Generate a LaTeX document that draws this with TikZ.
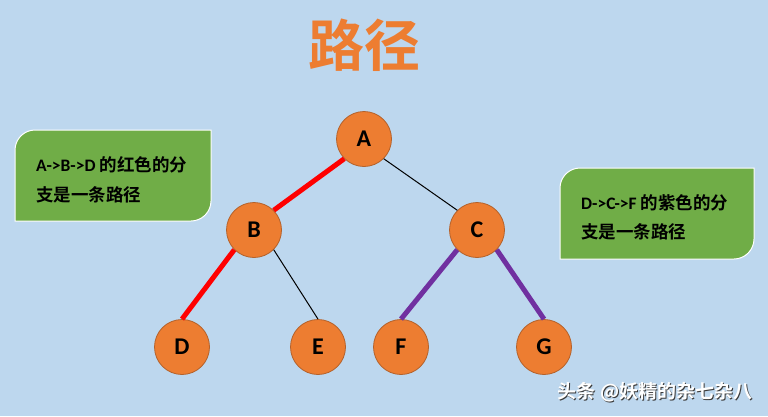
\documentclass[tikz,border=0pt]{standalone}
\usepackage{fontspec}
\setmainfont{Carlito}
\newfontfamily\cjkb[BoldFont=Noto Sans CJK SC Bold]{Noto Sans CJK SC}
\newfontfamily\cjkbold{Noto Sans CJK SC Bold}
\newfontfamily\latb{Carlito Bold}
\definecolor{bg}{HTML}{BDD7EE}
\definecolor{nodeor}{HTML}{ED7D31}
\definecolor{nodeedge}{HTML}{B4612A}
\definecolor{boxgreen}{HTML}{70AD47}
\definecolor{pathred}{HTML}{FF0000}
\definecolor{pathpurple}{HTML}{7030A0}
\definecolor{shadowgray}{HTML}{3A3A3A}
\tikzset{
  treenode/.style={circle, minimum size=55pt, inner sep=0pt, fill=nodeor, draw=nodeedge, line width=0.8pt, font=\latb\fontsize{24}{24}\selectfont},
  plainedge/.style={draw=black, line width=1pt},
  rededge/.style={draw=pathred, line width=5pt},
  purpleedge/.style={draw=pathpurple, line width=5pt},
  greenbox/.style={fill=boxgreen, draw=white, line width=1pt},
  boxtext/.style={anchor=west, inner sep=0pt, font=\fontsize{17.5}{17.5}\selectfont},
}
\begin{document}
\begin{tikzpicture}[x=1pt,y=-1pt]
\useasboundingbox (0,0) rectangle (768,416);
\fill[bg] (0,0) rectangle (768,416);

% title
\node[text=nodeor, font=\cjkbold\fontsize{56}{56}\selectfont, inner sep=0pt] (title) at (364,45) {路径};

% left box
\path[greenbox] (15,221) -- (15,150) .. controls (15,139) and (24,130) .. (35,130) -- (211,130) -- (211,201) .. controls (211,212) and (202,221) .. (191,221) -- cycle;
\node[boxtext] (l1) at (36,165) {{\latb A->B->D} {\cjkbold 的红色的分}};
\node[boxtext] (l2) at (36,195) {\cjkbold 支是一条路径};

% right box
\path[greenbox] (560,259) -- (560,188) .. controls (560,177) and (569,168) .. (580,168) -- (754,168) -- (754,239) .. controls (754,250) and (745,259) .. (734,259) -- cycle;
\node[boxtext] (r1) at (581,203) {{\latb D->C->F} {\cjkbold 的紫色的分}};
\node[boxtext] (r2) at (581,232) {\cjkbold 支是一条路径};

% nodes
\node[treenode] (A) at (364,139) {A};
\node[treenode] (B) at (254,230) {B};
\node[treenode] (C) at (477,230) {C};
\node[treenode] (D) at (182,347) {D};
\node[treenode] (E) at (318,347) {E};
\node[treenode] (F) at (401,347) {F};
\node[treenode] (G) at (544,347) {G};

% edges
\draw[rededge] (A.south west) -- (B.north east);
\draw[plainedge] (A.south east) -- (C.north west);
\draw[rededge] (B.south west) -- (D.north);
\draw[plainedge] (B.south east) -- (E.north);
\draw[purpleedge] (C.south west) -- (F.north);
\draw[purpleedge] (C.south east) -- (G.north);

% watermark
\node[text=shadowgray, font=\cjkbold\fontsize{19}{19}\selectfont, inner sep=0pt] (wmshadow) at (656,393) {头条 @妖精的杂七杂八};
\node[text=white, font=\cjkbold\fontsize{19}{19}\selectfont, inner sep=0pt] (wm) at (655,392) {头条 @妖精的杂七杂八};
\end{tikzpicture}
\end{document}
